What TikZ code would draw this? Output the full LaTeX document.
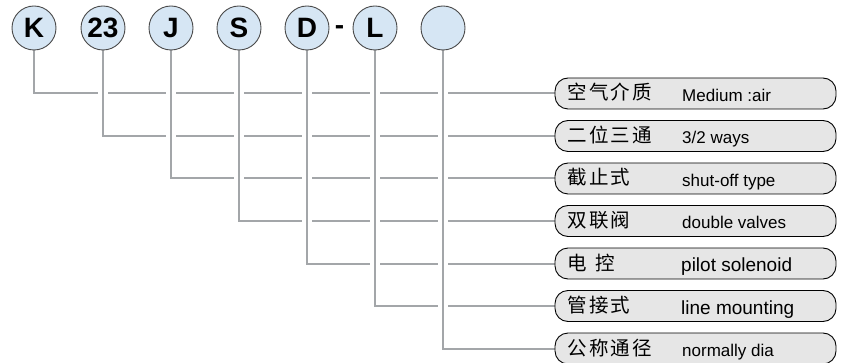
\documentclass[tikz,border=0pt]{standalone}
\usepackage{fontspec}
\setmainfont{Liberation Sans}
\newfontfamily\cjk[LetterSpace=12]{Noto Sans CJK SC}
\usetikzlibrary{backgrounds}
\definecolor{codeblue}{HTML}{D6E6F4}
\definecolor{codeedge}{HTML}{4A4A4A}
\definecolor{itemgray}{HTML}{E6E6E6}
\definecolor{leadgray}{HTML}{A3A6A9}

\begin{document}
\begin{tikzpicture}[x=1pt,y=-1pt,
    letter/.style={circle,draw=codeedge,fill=codeblue,line width=0.9pt,
      minimum size=44pt,inner sep=0pt,font=\fontsize{28}{28}\selectfont\bfseries},
    item/.style={draw=black,fill=itemgray,rounded corners=13pt,
      minimum width=281pt,minimum height=31pt,inner sep=0pt,line width=0.9pt},
    zh/.style={anchor=base west,inner sep=0pt,font=\fontsize{19.5}{20}\selectfont\cjk},
    en/.style={anchor=base west,inner sep=0pt,font=\fontsize{17}{17}\selectfont},
    lead/.style={draw=leadgray,line width=2pt,preaction={draw=white,line width=10pt}}]
  \useasboundingbox (0,0) rectangle (842,363);
  % Code letters
  \node[letter] (c1) at (34,28) {K};
  \node[letter] (c2) at (103,28) {23};
  \node[letter] (c3) at (171,28) {J};
  \node[letter] (c4) at (239,28) {S};
  \node[letter] (c5) at (307,28) {D};
  \node[font=\fontsize{28}{28}\selectfont\bfseries,inner sep=0pt] (dash) at (339.5,30) {-};
  \node[letter] (c6) at (375,28) {L};
  \node[letter] (c7) at (443,28) {};
  % Meaning boxes
  \node[item] (b1) at (695.5,93.5) {};
  \node[item] (b2) at (695.5,136) {};
  \node[item] (b3) at (695.5,178.5) {};
  \node[item] (b4) at (695.5,221) {};
  \node[item] (b5) at (695.5,263.5) {};
  \node[item] (b6) at (695.5,306) {};
  \node[item] (b7) at (695.5,348.5) {};
  % Box texts
  \node[zh] (z1) at (567,100) {空气介质};
  \node[en] (e1) at (682,101.5) {Medium :air};
  \node[zh] (z2) at (567,142.5) {二位三通};
  \node[en] (e2) at (682,144) {3/2 ways};
  \node[zh] (z3) at (567,185) {截止式};
  \node[en] (e3) at (682,186.5) {shut-off type};
  \node[zh] (z4) at (567,227.5) {双联阀};
  \node[en] (e4) at (682,229) {double valves};
  \node[zh] (z5) at (567,270) {电\hspace{9pt}控};
  \node[en,font=\fontsize{19}{19}\selectfont] (e5) at (681,271.5) {pilot solenoid};
  \node[zh] (z6) at (567,312.5) {管接式};
  \node[en,font=\fontsize{19}{19}\selectfont] (e6) at (681,314) {line mounting};
  \node[zh] (z7) at (567,355) {公称通径};
  \node[en] (e7) at (682,356.5) {normally dia};
  % Leader lines
  \begin{scope}[on background layer]
    \draw[lead] (c1.south) |- (b1.west);
    \draw[lead] (c2.south) |- (b2.west);
    \draw[lead] (c3.south) |- (b3.west);
    \draw[lead] (c4.south) |- (b4.west);
    \draw[lead] (c5.south) |- (b5.west);
    \draw[lead] (c6.south) |- (b6.west);
    \draw[lead] (c7.south) |- (b7.west);
  \end{scope}
\end{tikzpicture}
\end{document}
